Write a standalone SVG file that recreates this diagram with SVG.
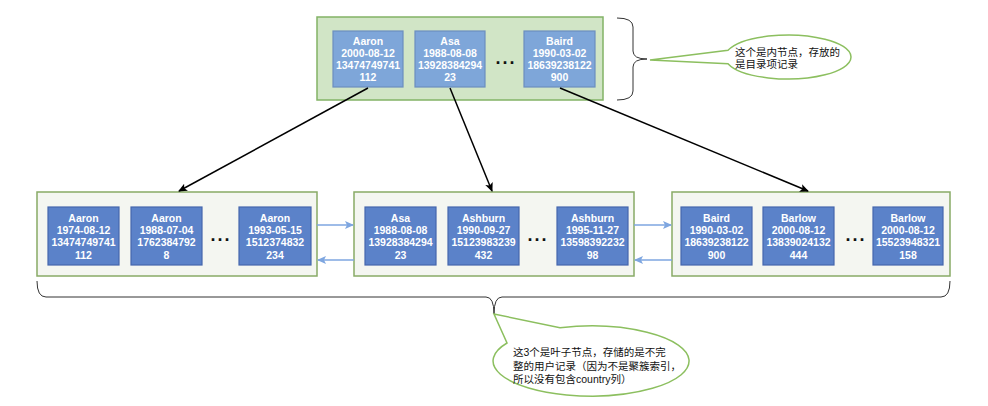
<svg xmlns="http://www.w3.org/2000/svg" width="988" height="406" viewBox="0 0 988 406">
<defs>
<style>
.rootc{fill:#d1e5c6;stroke:#82b366;stroke-width:1.5}
.leafc{fill:#f4f6f1;stroke:#88aa66;stroke-width:1.5}
.rb{fill:#7ea6d9;stroke:#6c8ebf;stroke-width:1.2}
.lb{fill:#5b82c9;stroke:#4566ad;stroke-width:1.2}
.bt{font-family:"Liberation Sans",Arial,sans-serif;font-weight:bold;font-size:10.5px;fill:#ffffff;text-anchor:middle}
.dots{font-family:"Liberation Sans",Arial,sans-serif;font-weight:bold;font-size:18px;fill:#111;text-anchor:middle;letter-spacing:2px}
.blk{stroke:#000;stroke-width:1.5;fill:none}
.blu{stroke:#7ea6e0;stroke-width:1.5;fill:none}
.brace{stroke:#333;stroke-width:1;fill:none}
.call{fill:#ffffff;stroke:#8cbf5f;stroke-width:1.5}
.ct{font-family:"Liberation Sans","Noto Sans CJK SC",sans-serif;font-size:10.5px;fill:#111}
</style>
<marker id="ab" markerWidth="10" markerHeight="10" refX="8" refY="5" orient="auto" markerUnits="userSpaceOnUse"><path d="M0,1 L9,5 L0,9 L2,5 Z" fill="#000"/></marker>
<marker id="bb" markerWidth="10" markerHeight="10" refX="8" refY="5" orient="auto" markerUnits="userSpaceOnUse"><path d="M0,1 L9,5 L0,9 L2,5 Z" fill="#7ea6e0"/></marker>
</defs>

<g id="root">
<rect class="rootc" x="317" y="17" width="286" height="83"/>
<rect class="rb" x="333" y="31" width="70" height="56"/>
<text class="bt"><tspan x="368" y="44.5">Aaron</tspan><tspan x="368" y="56.5">2000-08-12</tspan><tspan x="368" y="68.5">13474749741</tspan><tspan x="368" y="80.5">112</tspan></text>
<rect class="rb" x="415" y="31" width="70" height="56"/>
<text class="bt"><tspan x="450" y="44.5">Asa</tspan><tspan x="450" y="56.5">1988-08-08</tspan><tspan x="450" y="68.5">13928384294</tspan><tspan x="450" y="80.5">23</tspan></text>
<text class="dots" x="506" y="64">...</text>
<rect class="rb" x="524" y="31" width="71" height="56"/>
<text class="bt"><tspan x="559.5" y="44.5">Baird</tspan><tspan x="559.5" y="56.5">1990-03-02</tspan><tspan x="559.5" y="68.5">18639238122</tspan><tspan x="559.5" y="80.5">900</tspan></text>
</g>

<g id="leaf1">
<rect class="leafc" x="37" y="192" width="280" height="84"/>
<rect class="lb" x="48" y="207" width="71" height="58"/>
<text class="bt"><tspan x="83.5" y="222">Aaron</tspan><tspan x="83.5" y="234">1974-08-12</tspan><tspan x="83.5" y="246">13474749741</tspan><tspan x="83.5" y="258.5">112</tspan></text>
<rect class="lb" x="131" y="207" width="71" height="58"/>
<text class="bt"><tspan x="166.5" y="222">Aaron</tspan><tspan x="166.5" y="234">1988-07-04</tspan><tspan x="166.5" y="246">1762384792</tspan><tspan x="166.5" y="258.5">8</tspan></text>
<text class="dots" x="221" y="241">...</text>
<rect class="lb" x="239" y="207" width="72" height="58"/>
<text class="bt"><tspan x="275" y="222">Aaron</tspan><tspan x="275" y="234">1993-05-15</tspan><tspan x="275" y="246">1512374832</tspan><tspan x="275" y="258.5">234</tspan></text>
</g>

<g id="leaf2">
<rect class="leafc" x="354" y="192" width="280" height="84"/>
<rect class="lb" x="365" y="207" width="71" height="58"/>
<text class="bt"><tspan x="400.5" y="222">Asa</tspan><tspan x="400.5" y="234">1988-08-08</tspan><tspan x="400.5" y="246">13928384294</tspan><tspan x="400.5" y="258.5">23</tspan></text>
<rect class="lb" x="448" y="207" width="71" height="58"/>
<text class="bt"><tspan x="483.5" y="222">Ashburn</tspan><tspan x="483.5" y="234">1990-09-27</tspan><tspan x="483.5" y="246">15123983239</tspan><tspan x="483.5" y="258.5">432</tspan></text>
<text class="dots" x="538" y="241">...</text>
<rect class="lb" x="557" y="207" width="71" height="58"/>
<text class="bt"><tspan x="592.5" y="222">Ashburn</tspan><tspan x="592.5" y="234">1995-11-27</tspan><tspan x="592.5" y="246">13598392232</tspan><tspan x="592.5" y="258.5">98</tspan></text>
</g>

<g id="leaf3">
<rect class="leafc" x="672" y="192" width="278" height="84"/>
<rect class="lb" x="681" y="207" width="71" height="58"/>
<text class="bt"><tspan x="716.5" y="222">Baird</tspan><tspan x="716.5" y="234">1990-03-02</tspan><tspan x="716.5" y="246">18639238122</tspan><tspan x="716.5" y="258.5">900</tspan></text>
<rect class="lb" x="763" y="207" width="71" height="58"/>
<text class="bt"><tspan x="798.5" y="222">Barlow</tspan><tspan x="798.5" y="234">2000-08-12</tspan><tspan x="798.5" y="246">13839024132</tspan><tspan x="798.5" y="258.5">444</tspan></text>
<text class="dots" x="856" y="241">...</text>
<rect class="lb" x="873" y="207" width="70" height="58"/>
<text class="bt"><tspan x="908" y="222">Barlow</tspan><tspan x="908" y="234">2000-08-12</tspan><tspan x="908" y="246">15523948321</tspan><tspan x="908" y="258.5">158</tspan></text>
</g>

<g id="connectors">
<line class="blk" x1="368" y1="88" x2="179" y2="191" marker-end="url(#ab)"/>
<line class="blk" x1="450" y1="88" x2="492" y2="191" marker-end="url(#ab)"/>
<line class="blk" x1="560" y1="88" x2="808" y2="191" marker-end="url(#ab)"/>
<line class="blu" x1="317" y1="225" x2="353" y2="225" marker-end="url(#bb)"/>
<line class="blu" x1="354" y1="260" x2="318" y2="260" marker-end="url(#bb)"/>
<line class="blu" x1="634" y1="225" x2="671" y2="225" marker-end="url(#bb)"/>
<line class="blu" x1="672" y1="260" x2="635" y2="260" marker-end="url(#bb)"/>
</g>

<g id="brace-top">
<path class="brace" d="M617,18 Q633,18 633,27 L633,51 Q633,59 647,59 Q633,59 633,67 L633,91 Q633,100 617,100"/>
</g>
<g id="callout-top">
<path class="call" d="M728,50.3 A63,22 0 1 1 728,63.7 L650,60 Z"/>
<text class="ct"><tspan x="735" y="56">这个是内节点，存放的</tspan><tspan x="735" y="68">是目录项记录</tspan></text>
</g>

<g id="brace-bottom">
<path class="brace" d="M37,281 Q37,297 46,297 L486,297 Q494,297 494,314 Q494,297 502,297 L941,297 Q950,297 950,281"/>
</g>
<g id="callout-bottom">
<path class="call" d="M560,327.8 A98,35 0 1 1 507,343 L494,314 Z"/>
<text class="ct"><tspan x="513" y="356">这3个是叶子节点，存储的是不完</tspan><tspan x="513" y="370">整的用户记录（因为不是聚簇索引，</tspan><tspan x="513" y="383">所以没有包含country列）</tspan></text>
</g>
</svg>
